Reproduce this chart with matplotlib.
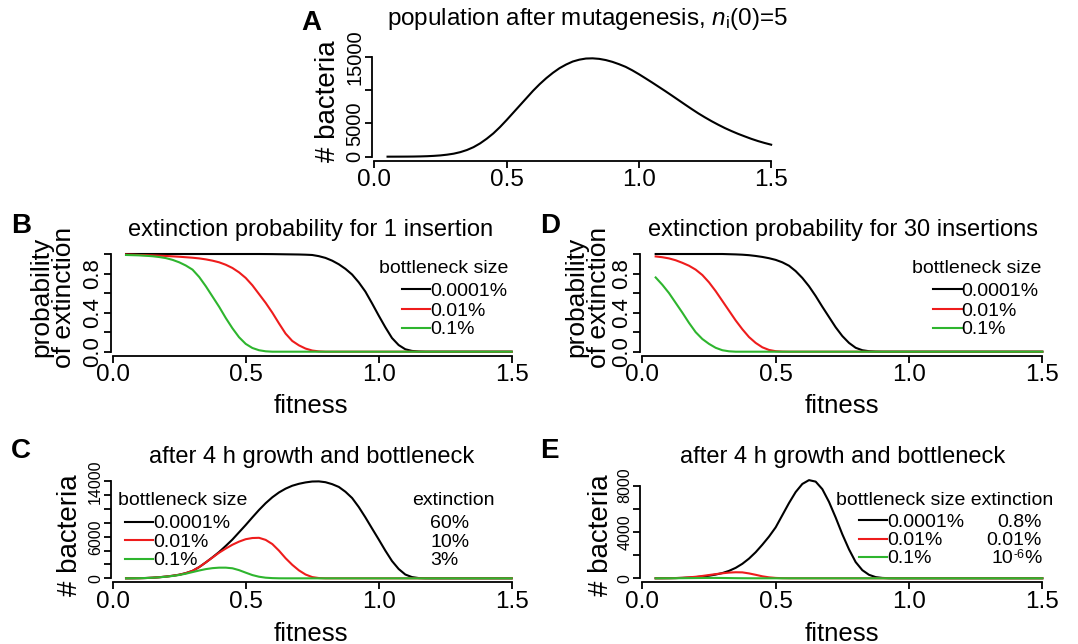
import matplotlib
matplotlib.use("Agg")
import matplotlib.pyplot as plt
import numpy as np

plt.rcParams['font.family'] = ['Liberation Sans', 'DejaVu Sans']
plt.rcParams['mathtext.fontset'] = 'custom'
plt.rcParams['mathtext.rm'] = 'Liberation Sans'
plt.rcParams['mathtext.it'] = 'Liberation Sans:italic'

# fitness grid the curves were read at (0.05 .. 1.5, step 0.025)
fitness = np.linspace(0.05, 1.5, 59)

# A: population after mutagenesis
pop_A = [0, 2, 5, 10, 20, 40, 70, 120, 190, 300,
         450, 680, 1000, 1430, 2000, 2700, 3500, 4450, 5500, 6600,
         7700, 8800, 9900, 10900, 11800, 12600, 13300, 13850, 14300, 14580,
         14750, 14780, 14700, 14520, 14250, 13900, 13500, 12980, 12400, 11780,
         11150, 10500, 9850, 9180, 8500, 7820, 7150, 6500, 5900, 5330,
         4800, 4300, 3850, 3430, 3050, 2680, 2350, 2060, 1800]

# B: extinction probability, 1 insertion
ext1_black = [1, 1, 1, 1, 1, 1, 1, 1, 1, 1,
              1, 1, 1, 1, 1, 1, 1, 1, 1, 1,
              1.0, 0.9995, 0.999, 0.998, 0.997, 0.996, 0.995, 0.993, 0.99, 0.978,
              0.96, 0.932, 0.895, 0.848, 0.79, 0.71, 0.615, 0.495, 0.37, 0.25,
              0.14, 0.068, 0.025, 0.008, 0.002, 0, 0, 0, 0, 0,
              0, 0, 0, 0, 0, 0, 0, 0, 0]
ext1_red = [0.995, 0.993, 0.99, 0.988, 0.986, 0.983, 0.98, 0.976, 0.972, 0.967,
            0.962, 0.955, 0.945, 0.932, 0.915, 0.89, 0.857, 0.812, 0.755, 0.68,
            0.59, 0.50, 0.40, 0.29, 0.185, 0.11, 0.065, 0.032, 0.012, 0.003,
            0, 0, 0, 0, 0, 0, 0, 0, 0, 0,
            0, 0, 0, 0, 0, 0, 0, 0, 0, 0,
            0, 0, 0, 0, 0, 0, 0, 0, 0]
ext1_green = [0.99, 0.988, 0.986, 0.982, 0.977, 0.969, 0.958, 0.94, 0.915, 0.882,
              0.84, 0.765, 0.67, 0.565, 0.46, 0.345, 0.24, 0.148, 0.08, 0.038,
              0.015, 0.004, 0, 0, 0, 0, 0, 0, 0, 0,
              0, 0, 0, 0, 0, 0, 0, 0, 0, 0,
              0, 0, 0, 0, 0, 0, 0, 0, 0, 0,
              0, 0, 0, 0, 0, 0, 0, 0, 0]

# D: extinction probability, 30 insertions
ext30_black = [1, 1, 1, 1, 1, 1, 1, 1, 1, 1,
               1.0, 0.998, 0.996, 0.993, 0.988, 0.98, 0.97, 0.957, 0.94, 0.915,
               0.88, 0.825, 0.755, 0.67, 0.57, 0.46, 0.355, 0.25, 0.16, 0.09,
               0.04, 0.015, 0.005, 0.001, 0, 0, 0, 0, 0, 0,
               0, 0, 0, 0, 0, 0, 0, 0, 0, 0,
               0, 0, 0, 0, 0, 0, 0, 0, 0]
ext30_red = [0.975, 0.967, 0.955, 0.936, 0.91, 0.88, 0.84, 0.785, 0.71, 0.62,
             0.52, 0.42, 0.32, 0.23, 0.15, 0.09, 0.045, 0.018, 0.005, 0.001,
             0, 0, 0, 0, 0, 0, 0, 0, 0, 0,
             0, 0, 0, 0, 0, 0, 0, 0, 0, 0,
             0, 0, 0, 0, 0, 0, 0, 0, 0, 0,
             0, 0, 0, 0, 0, 0, 0, 0, 0]
ext30_green = [0.76, 0.685, 0.60, 0.50, 0.40, 0.295, 0.20, 0.13, 0.08, 0.04,
               0.015, 0.004, 0, 0, 0, 0, 0, 0, 0, 0,
               0, 0, 0, 0, 0, 0, 0, 0, 0, 0,
               0, 0, 0, 0, 0, 0, 0, 0, 0, 0,
               0, 0, 0, 0, 0, 0, 0, 0, 0, 0,
               0, 0, 0, 0, 0, 0, 0, 0, 0]

# C: bacteria after growth and bottleneck, 1 insertion
grow1_black = [2, 8, 20, 45, 90, 160, 250, 370, 520, 750,
               1080, 1620, 2300, 3030, 3800, 4680, 5600, 6650, 7700, 8800,
               9870, 10850, 11700, 12400, 12950, 13370, 13650, 13850, 13980, 14000,
               13880, 13600, 13200, 12500, 11600, 10300, 8800, 7200, 5620, 4000,
               2500, 1350, 550, 180, 40, 5, 0, 0, 0, 0,
               0, 0, 0, 0, 0, 0, 0, 0, 0]
grow1_red = [2, 8, 20, 45, 90, 160, 250, 370, 520, 750,
             1080, 1620, 2300, 3000, 3700, 4300, 4850, 5300, 5650, 5820,
             5850, 5550, 4950, 4000, 2900, 1950, 1150, 550, 180, 40,
             0, 0, 0, 0, 0, 0, 0, 0, 0, 0,
             0, 0, 0, 0, 0, 0, 0, 0, 0, 0,
             0, 0, 0, 0, 0, 0, 0, 0, 0]
grow1_green = [2, 8, 20, 45, 85, 150, 230, 340, 480, 670,
               900, 1130, 1330, 1470, 1540, 1540, 1450, 1180, 820, 470,
               230, 90, 30, 5, 0, 0, 0, 0, 0, 0,
               0, 0, 0, 0, 0, 0, 0, 0, 0, 0,
               0, 0, 0, 0, 0, 0, 0, 0, 0, 0,
               0, 0, 0, 0, 0, 0, 0, 0, 0]

# E: bacteria after growth and bottleneck, 30 insertions
grow30_black = [2, 5, 10, 20, 35, 60, 100, 150, 220, 320,
                450, 640, 900, 1250, 1700, 2250, 2900, 3600, 4400, 5450,
                6500, 7450, 8150, 8480, 8350, 7700, 6600, 5250, 3800, 2500,
                1400, 700, 300, 100, 30, 5, 0, 0, 0, 0,
                0, 0, 0, 0, 0, 0, 0, 0, 0, 0,
                0, 0, 0, 0, 0, 0, 0, 0, 0]
grow30_red = [0, 2, 5, 15, 40, 80, 130, 200, 280, 360,
              430, 490, 520, 510, 420, 300, 170, 80, 30, 8,
              0, 0, 0, 0, 0, 0, 0, 0, 0, 0,
              0, 0, 0, 0, 0, 0, 0, 0, 0, 0,
              0, 0, 0, 0, 0, 0, 0, 0, 0, 0,
              0, 0, 0, 0, 0, 0, 0, 0, 0]
grow30_green = [0, 1, 2, 5, 8, 14, 20, 26, 30, 30,
                25, 18, 10, 5, 2, 0, 0, 0, 0, 0,
                0, 0, 0, 0, 0, 0, 0, 0, 0, 0,
                0, 0, 0, 0, 0, 0, 0, 0, 0, 0,
                0, 0, 0, 0, 0, 0, 0, 0, 0, 0,
                0, 0, 0, 0, 0, 0, 0, 0, 0]

bottleneck = ['0.0001%', '0.01%', '0.1%']
colors = ['black', '#ee1c1c', '#2eb52e']
extinct_C = ['60%', '10%', '3%']
extinct_E = ['0.8%', '0.01%']
extinct_E_last = ('10', '-6', '%')   # 10^-6 %

W, H = 1078, 644
fig = plt.figure(figsize=(W / 100, H / 100), dpi=100)


def fx(px):
    return px / W


def fy(py):
    return 1 - py / H


def panel(l, t, r, b):
    return fig.add_axes([fx(l), fy(b), (r - l) / W, (b - t) / H])


def style(ax, ytop, yticks, ylabs, ysize):
    pad = 0.04 * (fitness[-1] - fitness[0])
    ax.set_xlim(fitness[0] - pad, fitness[-1] + pad)
    ax.set_ylim(-0.04 * ytop, 1.04 * ytop)
    ax.spines[['top', 'right']].set_visible(False)
    ax.spines['left'].set_bounds(0, yticks[-1])
    ax.spines['bottom'].set_bounds(0, 1.5)
    for s in ['left', 'bottom']:
        ax.spines[s].set_linewidth(1.3)
    ax.set_xticks([0, 0.5, 1.0, 1.5], ['0.0', '0.5', '1.0', '1.5'], fontsize=17.5)
    ax.set_yticks(yticks, ylabs, rotation=90, va='center', fontsize=ysize)
    ax.tick_params(length=5, width=1.3)
    ax.tick_params(axis='x', pad=1)
    ax.tick_params(axis='y', pad=0.5)


def curves(ax, series):
    for ys, c in zip(series, colors):
        ax.plot(fitness, ys, color=c, lw=1.5)


def legend(x0, x1, ys, labels):
    for y, lab, c in zip(ys, labels, colors):
        fig.add_artist(plt.Line2D([fx(x0), fx(x1)], [fy(y - 6.5), fy(y - 6.5)],
                                  transform=fig.transFigure, color=c, lw=1.5))
        fig.text(fx(x1), fy(y), lab, fontsize=14, ha='left', va='baseline')


def ylab(x, y, s, size):
    fig.text(fx(x), fy(y), s, fontsize=size, rotation=90, rotation_mode='anchor',
             ha='center', va='baseline', linespacing=0.95)


# ---- A ----
axA = panel(372.2, 54.4, 786.5, 160.6)
axA.plot(fitness, pop_A, color='black', lw=1.5)
style(axA, max(pop_A), [0, 5000, 10000, 15000], ['0', '5000', '', '15000'], 14.5)
fig.text(fx(301), fy(30), 'A', fontsize=20, fontweight='bold', va='baseline')
fig.text(fx(587.5), fy(24.5), r'population after mutagenesis, $n_{\mathrm{i}}$(0)=5',
         fontsize=17.5, ha='center', va='baseline')
ylab(335, 100.8, '# bacteria', 20)

# ---- B ----
axB = panel(110.6, 250.1, 527.1, 355.6)
curves(axB, [ext1_black, ext1_red, ext1_green])
style(axB, 1.0, [0, 0.2, 0.4, 0.6, 0.8, 1.0], ['0.0', '', '0.4', '', '0.8', ''], 16)
fig.text(fx(11), fy(233.3), 'B', fontsize=20, fontweight='bold', va='baseline')
fig.text(fx(311), fy(236), 'extinction probability for 1 insertion',
         fontsize=17, ha='center', va='baseline')
fig.text(fx(311), fy(413.3), 'fitness', fontsize=18.5, ha='center', va='baseline')
ylab(72, 297, 'probability\nof extinction', 19)
fig.text(fx(508), fy(272.7), 'bottleneck size', fontsize=14, ha='right', va='baseline')
legend(401.7, 430, [296, 315.7, 334], bottleneck)

# ---- D ----
axD = panel(640.2, 250.1, 1057.8, 355.6)
curves(axD, [ext30_black, ext30_red, ext30_green])
style(axD, 1.0, [0, 0.2, 0.4, 0.6, 0.8, 1.0], ['0.0', '', '0.4', '', '0.8', ''], 16)
fig.text(fx(540), fy(233.3), 'D', fontsize=20, fontweight='bold', va='baseline')
fig.text(fx(843), fy(236), 'extinction probability for 30 insertions',
         fontsize=17, ha='center', va='baseline')
fig.text(fx(841.7), fy(413.3), 'fitness', fontsize=18.5, ha='center', va='baseline')
ylab(607, 297, 'probability\nof extinction', 19)
fig.text(fx(1041.7), fy(272.7), 'bottleneck size', fontsize=14, ha='right', va='baseline')
legend(932.7, 961.7, [296, 315.7, 334], bottleneck)

# ---- C ----
axC = panel(110.6, 477.5, 527.1, 582.2)
curves(axC, [grow1_black, grow1_red, grow1_green])
style(axC, max(grow1_black), list(range(0, 14001, 2000)),
      ['0', '', '', '6000', '', '', '', '14000'], 11.5)
fig.text(fx(11), fy(458.3), 'C', fontsize=20, fontweight='bold', va='baseline')
fig.text(fx(311.7), fy(463), 'after 4 h growth and bottleneck',
         fontsize=17, ha='center', va='baseline')
fig.text(fx(311), fy(641), 'fitness', fontsize=18.5, ha='center', va='baseline')
ylab(77, 535, '# bacteria', 20)
fig.text(fx(118.3), fy(505), 'bottleneck size', fontsize=14, ha='left', va='baseline')
legend(125, 153.3, [528.3, 546.7, 565], bottleneck)
fig.text(fx(411.7), fy(505), 'extinction', fontsize=14, ha='left', va='baseline')
for y, lab in zip([528.3, 546.7, 565], extinct_C):
    fig.text(fx(430), fy(y), lab, fontsize=14, ha='left', va='baseline')

# ---- E ----
axE = panel(640.2, 476.2, 1057.8, 582.2)
curves(axE, [grow30_black, grow30_red, grow30_green])
style(axE, max(grow30_black), [0, 2000, 4000, 6000, 8000],
      ['0', '', '4000', '', '8000'], 11.5)
fig.text(fx(540), fy(458.3), 'E', fontsize=20, fontweight='bold', va='baseline')
fig.text(fx(843), fy(463), 'after 4 h growth and bottleneck',
         fontsize=17, ha='center', va='baseline')
fig.text(fx(841.7), fy(641), 'fitness', fontsize=18.5, ha='center', va='baseline')
ylab(608, 535, '# bacteria', 20)
fig.text(fx(836), fy(505), 'bottleneck size extinction', fontsize=14, ha='left', va='baseline')
legend(859.3, 887.3, [526.7, 545, 563.3], bottleneck)
for y, lab in zip([526.7, 545], extinct_E):
    fig.text(fx(1041.7), fy(y), lab, fontsize=14, ha='right', va='baseline')

# last row "10^-6 %", built from pieces so the exponent sits low and small
r = fig.canvas.get_renderer()
base, sup, pct = extinct_E_last
t = fig.text(fx(1041.7), fy(563.3), pct, fontsize=14, ha='right', va='baseline')
x_left = t.get_window_extent(r).x0
t = fig.text(x_left / W, fy(558.3), sup, fontsize=9, ha='right', va='baseline')
x_left = t.get_window_extent(r).x0
fig.text(x_left / W, fy(563.3), base, fontsize=14, ha='right', va='baseline')

fig.savefig('out.png', dpi=100)
